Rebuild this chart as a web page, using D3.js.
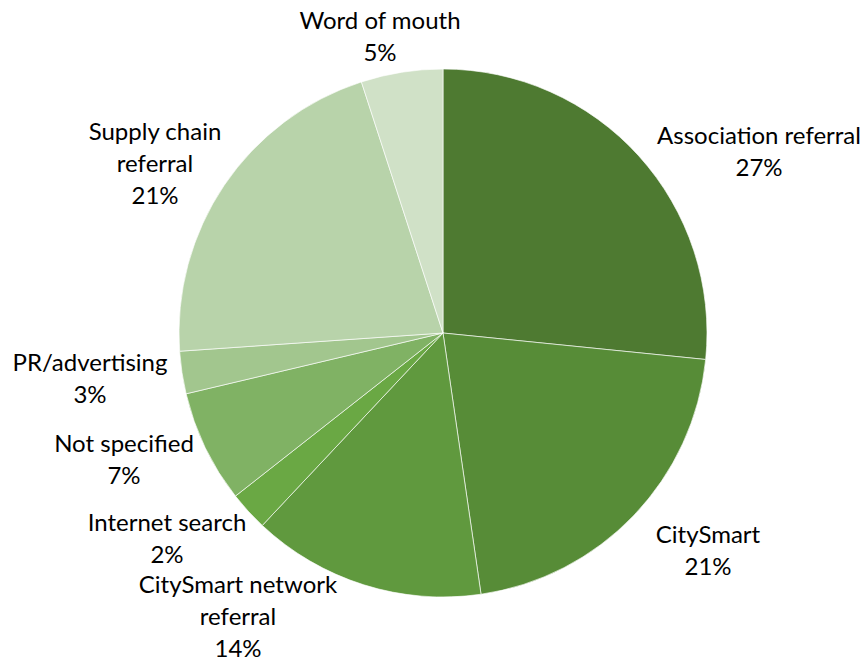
<!DOCTYPE html>
<html>
<head>
<meta charset="utf-8">
<script src="https://cdn.jsdelivr.net/npm/d3@7"></script>
<style>
  html, body { margin: 0; padding: 0; background: #fff; }
  svg { display: block; }
  text { font-family: Lato, "Liberation Sans", sans-serif; fill: #000; }
</style>
</head>
<body>
<svg id="chart" width="865" height="661"></svg>
<script>
// Data
const categories = ["Association referral", "CitySmart", "CitySmart network referral", "Internet search",
                    "Not specified", "PR/advertising", "Supply chain referral", "Word of mouth"];
const labelLines = [["Association referral"], ["CitySmart"], ["CitySmart network", "referral"], ["Internet search"],
                    ["Not specified"], ["PR/advertising"], ["Supply chain", "referral"], ["Word of mouth"]];
const values = [26.6, 21.1, 14.3, 2.4, 6.9, 2.6, 21.1, 5.0];
const colors = ["#4e7a31", "#578c37", "#60993e", "#6aa844", "#80b264", "#a2c68e", "#b8d3aa", "#d0e1c7"];

// Layout (label centre offsets from the pie centre, in px)
const labelOffsets = [[316, -181], [265, 218], [-205, 284], [-276, 206], [-319, 127], [-353, 46], [-288, -169], [-63, -296]];

const W = 865, H = 661, cx = 443, cy = 333, R = 264;
const fontSize = 24, lineH = 32;

const svg = d3.select("#chart");
const g = svg.append("g").attr("transform", `translate(${cx},${cy})`);

const total = d3.sum(values);
const pie = d3.pie().sort(null).value(d => d)(values);
const arc = d3.arc().innerRadius(0).outerRadius(R);

g.selectAll("path.slice")
  .data(pie)
  .join("path")
  .attr("class", "slice")
  .attr("d", arc)
  .attr("fill", (d, i) => colors[i])
  .attr("stroke", "#ffffff")
  .attr("stroke-width", 0.8)
  .attr("stroke-opacity", 0.8);

const labels = g.selectAll("g.lbl")
  .data(pie)
  .join("g")
  .attr("class", "lbl")
  .attr("transform", (d, i) => `translate(${labelOffsets[i][0]},${labelOffsets[i][1]})`);

labels.each(function(d, i) {
  const lines = labelLines[i].concat([Math.round(values[i] / total * 100) + "%"]);
  const n = lines.length;
  const t = d3.select(this).append("text")
    .attr("text-anchor", "middle")
    .style("font-size", fontSize + "px");
  lines.forEach((ln, k) => {
    t.append("tspan")
      .attr("x", 0)
      .attr("y", (k - (n - 1) / 2) * lineH + fontSize * 0.35)
      .text(ln);
  });
});
</script>
</body>
</html>
